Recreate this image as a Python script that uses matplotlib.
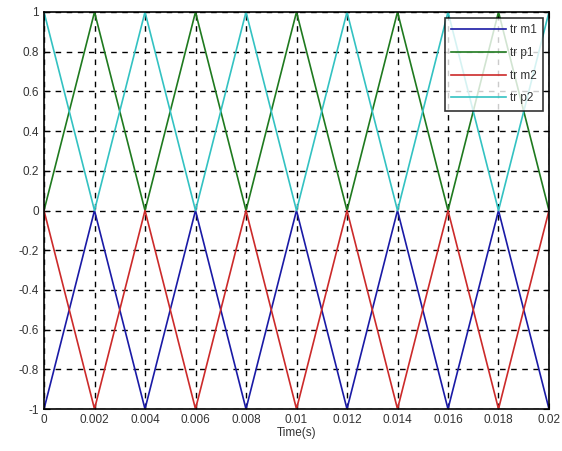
import matplotlib

matplotlib.use("Agg")
import matplotlib.pyplot as plt
import numpy as np

# carrier vertices, one every 0.002 s
TIME = [0, 0.002, 0.004, 0.006, 0.008, 0.01, 0.012, 0.014, 0.016, 0.018, 0.02]
TR_M1 = [-1, 0, -1, 0, -1, 0, -1, 0, -1, 0, -1]
TR_P1 = [0, 1, 0, 1, 0, 1, 0, 1, 0, 1, 0]
TR_M2 = [0, -1, 0, -1, 0, -1, 0, -1, 0, -1, 0]
TR_P2 = [1, 0, 1, 0, 1, 0, 1, 0, 1, 0, 1]

X_TICKS = [0, 0.002, 0.004, 0.006, 0.008, 0.01, 0.012, 0.014, 0.016, 0.018, 0.02]
X_LABELS = ["0", "0.002", "0.004", "0.006", "0.008", "0.01", "0.012", "0.014", "0.016", "0.018", "0.02"]
Y_TICKS = [-1, -0.8, -0.6, -0.4, -0.2, 0, 0.2, 0.4, 0.6, 0.8, 1]
Y_LABELS = ["-1", "-0.8", "-0.6", "-0.4", "-0.2", "0", "0.2", "0.4", "0.6", "0.8", "1"]

SERIES = [
    ("tr m1", TR_M1, "#1a1aa6"),
    ("tr p1", TR_P1, "#1f7a1f"),
    ("tr m2", TR_M2, "#cc2a2a"),
    ("tr p2", TR_P2, "#33c2c2"),
]

plt.rcParams["font.family"] = ["Liberation Sans", "DejaVu Sans"]

fig = plt.figure(figsize=(5.62, 4.51), dpi=100)
ax = fig.add_axes([44 / 562, 1 - 409 / 451, (549 - 44) / 562, (409 - 12) / 451])

for label, values, color in SERIES:
    ax.plot(TIME, values, color=color, linewidth=1.2, label=label)

ax.set_xlim(0, 0.02)
ax.set_ylim(-1, 1)
ax.set_xticks(X_TICKS)
ax.set_xticklabels(X_LABELS)
ax.set_yticks(Y_TICKS)
ax.set_yticklabels(Y_LABELS)
ax.tick_params(direction="in", labelsize=8.5, length=4, colors="black",
               labelcolor="#333333", top=True, right=True)
ax.grid(True, color="black", linestyle=(0, (4, 4)), linewidth=1.0)
for spine in ax.spines.values():
    spine.set_linewidth(1.2)
ax.set_xlabel("Time(s)", fontsize=8.5, labelpad=1, color="#333333")

leg = ax.legend(loc="upper right", fontsize=8.5, frameon=True, fancybox=False,
                edgecolor="black", borderaxespad=0.5, handlelength=4.6,
                handletextpad=0.35, labelspacing=0.9, borderpad=0.55)
leg.get_frame().set_linewidth(1.2)
for text in leg.get_texts():
    text.set_color("#333333")

fig.savefig("out.png", dpi=100)
plt.close(fig)
